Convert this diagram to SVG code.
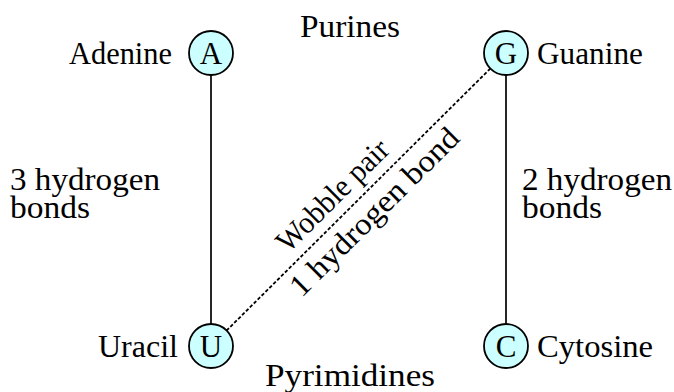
<svg xmlns="http://www.w3.org/2000/svg" width="674" height="392" viewBox="0 0 674 392" font-family="'Liberation Serif', serif">
  <style>
    text { font-family: "Liberation Serif", serif; font-size: 31px; fill: #000; }
    .base circle { fill: #ccffff; stroke: #000; stroke-width: 1.8; }
    .base text.letter { text-anchor: middle; }
    .bond { stroke: #000; stroke-width: 1.7; fill: none; }
    .wobble { stroke-dasharray: 3.5 2; stroke-width: 1.8; }
    .mid { text-anchor: middle; }
  </style>

  <!-- connectors -->
  <g id="connectors">
    <line class="bond" x1="211" y1="75" x2="211" y2="324"/>
    <line class="bond" x1="506" y1="75" x2="506" y2="324"/>
    <line class="bond wobble" x1="490.4" y1="68.5" x2="226.6" y2="330.5"/>
  </g>

  <!-- bases -->
  <g id="adenine" class="base">
    <circle cx="211" cy="53" r="22"/>
    <text class="letter" x="211" y="63.5">A</text>
    <text x="172" y="63.5" text-anchor="end" textLength="103" lengthAdjust="spacingAndGlyphs">Adenine</text>
  </g>
  <g id="guanine" class="base">
    <circle cx="506" cy="53" r="22"/>
    <text class="letter" x="506" y="63.5">G</text>
    <text x="537" y="63.5" textLength="106" lengthAdjust="spacingAndGlyphs">Guanine</text>
  </g>
  <g id="uracil" class="base">
    <circle cx="211" cy="346" r="22"/>
    <text class="letter" x="211" y="356.5">U</text>
    <text x="178" y="356.5" text-anchor="end" textLength="80" lengthAdjust="spacingAndGlyphs">Uracil</text>
  </g>
  <g id="cytosine" class="base">
    <circle cx="506" cy="346" r="22"/>
    <text class="letter" x="506" y="356.5">C</text>
    <text x="537" y="356.5" textLength="116" lengthAdjust="spacingAndGlyphs">Cytosine</text>
  </g>

  <!-- group and bond labels -->
  <g id="labels">
    <text class="mid" x="350" y="37" textLength="100" lengthAdjust="spacingAndGlyphs">Purines</text>
    <text class="mid" x="350" y="386" textLength="170" lengthAdjust="spacingAndGlyphs">Pyrimidines</text>
    <text x="10" y="190" textLength="150" lengthAdjust="spacingAndGlyphs">3 hydrogen</text>
    <text x="10" y="218" textLength="80" lengthAdjust="spacingAndGlyphs">bonds</text>
    <text x="522" y="190" textLength="150" lengthAdjust="spacingAndGlyphs">2 hydrogen</text>
    <text x="522" y="218" textLength="80" lengthAdjust="spacingAndGlyphs">bonds</text>
    <g transform="translate(356,202) rotate(-44.8)">
      <text class="mid" x="-12" y="-11" textLength="145" lengthAdjust="spacingAndGlyphs">Wobble pair</text>
      <text class="mid" x="6" y="30" textLength="225" lengthAdjust="spacingAndGlyphs">1 hydrogen bond</text>
    </g>
  </g>
</svg>
